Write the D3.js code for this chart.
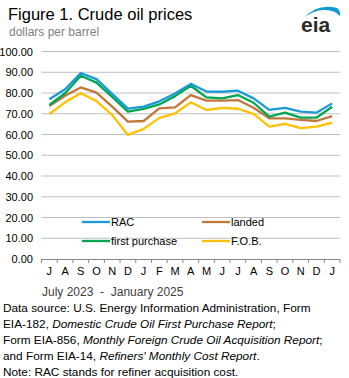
<!DOCTYPE html>
<html>
<head>
<meta charset="utf-8">
<script src="https://cdn.jsdelivr.net/npm/d3@7"></script>
<style>
  body { margin: 0; background: #fff; }
  svg { display: block; font-family: "Liberation Sans", Arial, sans-serif; }
</style>
</head>
<body>
<div id="chart"></div>
<script>
// monthly prices, July 2023 - January 2025 (dollars per barrel)
const months = ["J", "A", "S", "O", "N", "D", "J", "F", "M", "A", "M", "J", "J", "A", "S", "O", "N", "D", "J"];
const rac = [77.0, 81.8, 89.6, 86.7, 79.6, 72.5, 73.4, 76.0, 79.8, 84.4, 80.7, 80.6, 81.1, 77.4, 71.9, 72.8, 71.0, 70.5, 75.0];
const firstPurchase = [74.2, 79.9, 88.3, 85.0, 78.1, 71.0, 72.3, 74.5, 78.5, 83.5, 77.9, 77.4, 79.0, 75.3, 68.6, 70.5, 68.1, 68.1, 73.4];
const landed = [73.7, 78.7, 82.7, 80.2, 73.4, 66.2, 66.5, 72.6, 73.1, 79.0, 76.3, 76.3, 76.6, 72.9, 67.8, 67.8, 67.0, 66.5, 68.9];
const fob = [69.9, 75.5, 79.9, 76.1, 69.4, 59.8, 62.7, 68.0, 70.2, 75.5, 71.8, 72.8, 72.4, 69.9, 63.8, 65.1, 63.1, 63.8, 65.7];
const yTicks = [0, 10, 20, 30, 40, 50, 60, 70, 80, 90, 100];

const width = 349, height = 378;
const svg = d3.select("#chart").append("svg")
  .attr("width", width)
  .attr("height", height);

// plot area
const x = d3.scaleBand()
  .domain(d3.range(months.length))
  .range([41.5, 340]);
const y = d3.scaleLinear()
  .domain([0, 100])
  .range([259, 51.5]);

// title block
svg.append("text")
  .attr("x", 8).attr("y", 20)
  .attr("font-size", 16.5)
  .attr("fill", "#000")
  .text("Figure 1. Crude oil prices");
svg.append("text")
  .attr("x", 9).attr("y", 36)
  .attr("font-size", 12)
  .attr("fill", "#7f7f7f")
  .text("dollars per barrel");

// eia logo
const logo = svg.append("g");
logo.append("path")
  .attr("d", "M305,17 Q318,3 337,8 Q341,11 340,16 Q334,9 322,10 Q313,11 305,17 Z")
  .attr("fill", "#0f99d6");
logo.append("text")
  .attr("x", 301).attr("y", 32)
  .attr("font-size", 21)
  .attr("font-weight", "bold")
  .attr("fill", "#2b2b2b")
  .text("eia");

// gridlines
svg.append("g")
  .selectAll("line")
  .data(yTicks.filter(d => d > 0))
  .enter()
  .append("line")
  .attr("x1", 41.5).attr("x2", 340)
  .attr("y1", d => y(d)).attr("y2", d => y(d))
  .attr("stroke", "#bfbfbf")
  .attr("stroke-width", 1);

// y axis labels
svg.append("g")
  .selectAll("text")
  .data(yTicks)
  .enter()
  .append("text")
  .attr("x", 33)
  .attr("y", d => y(d) + 4)
  .attr("text-anchor", "end")
  .attr("font-size", 11)
  .attr("fill", "#000")
  .text(d => d3.format(".2f")(d));

// x axis with ticks between months
const xAxis = d3.axisBottom(x)
  .tickSize(0)
  .tickFormat(i => months[i]);
const gx = svg.append("g")
  .attr("transform", "translate(0," + y(0) + ")")
  .call(xAxis);
gx.select(".domain").attr("stroke", "#888").attr("d", "M41.5,0.5H340");
gx.selectAll("text")
  .attr("dy", 0)
  .attr("y", 16)
  .attr("font-size", 11)
  .attr("font-family", "Liberation Sans, Arial, sans-serif")
  .attr("fill", "#000");
gx.selectAll(".boundary")
  .data(d3.range(months.length + 1))
  .enter()
  .append("line")
  .attr("x1", i => 41.5 + i * x.step()).attr("x2", i => 41.5 + i * x.step())
  .attr("y1", 0).attr("y2", 4)
  .attr("stroke", "#888");

svg.append("text")
  .attr("x", 42).attr("y", 296)
  .attr("font-size", 12)
  .attr("fill", "#404040")
  .attr("xml:space", "preserve")
  .text("July 2023  -  January 2025");

// series lines
const series = [
  { name: "F.O.B.", values: fob, color: "#ffc000" },
  { name: "landed", values: landed, color: "#c0773a" },
  { name: "first purchase", values: firstPurchase, color: "#00a651" },
  { name: "RAC", values: rac, color: "#1b9ad6" }
];
const line = d3.line()
  .x((d, i) => x(i) + x.bandwidth() / 2)
  .y(d => y(d));
svg.append("g")
  .selectAll("path")
  .data(series)
  .enter()
  .append("path")
  .attr("d", d => line(d.values))
  .attr("fill", "none")
  .attr("stroke", d => d.color)
  .attr("stroke-width", 2.3)
  .attr("stroke-linejoin", "round");

// legend
const legendItems = [
  { name: "RAC", color: "#1b9ad6", lx: 82, ly: 222 },
  { name: "landed", color: "#c0773a", lx: 202, ly: 222 },
  { name: "first purchase", color: "#00a651", lx: 82, ly: 241 },
  { name: "F.O.B.", color: "#ffc000", lx: 202, ly: 241 }
];
const legend = svg.append("g");
legend.selectAll("line")
  .data(legendItems)
  .enter()
  .append("line")
  .attr("x1", d => d.lx).attr("x2", d => d.lx + 28)
  .attr("y1", d => d.ly).attr("y2", d => d.ly)
  .attr("stroke", d => d.color)
  .attr("stroke-width", 2.3);
legend.selectAll("text")
  .data(legendItems)
  .enter()
  .append("text")
  .attr("x", d => d.lx + 29)
  .attr("y", d => d.ly + 4)
  .attr("font-size", 11)
  .attr("fill", "#000")
  .text(d => d.name);

// source notes
const notes = [
  [["Data source: U.S. Energy Information Administration, Form", false]],
  [["EIA-182, ", false], ["Domestic Crude Oil First Purchase Report", true], [";", false]],
  [["Form EIA-856, ", false], ["Monthly Foreign Crude Oil Acquisition Report", true], [";", false]],
  [["and Form EIA-14, ", false], ["Refiners' Monthly Cost Report", true], [".", false]],
  [["Note: RAC stands for refiner acquisition cost.", false]]
];
const noteText = svg.append("g")
  .selectAll("text")
  .data(notes)
  .enter()
  .append("text")
  .attr("x", 3)
  .attr("y", (d, i) => 312 + i * 15.9)
  .attr("font-size", 11.8)
  .attr("fill", "#000");
noteText.selectAll("tspan")
  .data(d => d)
  .enter()
  .append("tspan")
  .attr("font-style", d => d[1] ? "italic" : "normal")
  .text(d => d[0]);
</script>
</body>
</html>
